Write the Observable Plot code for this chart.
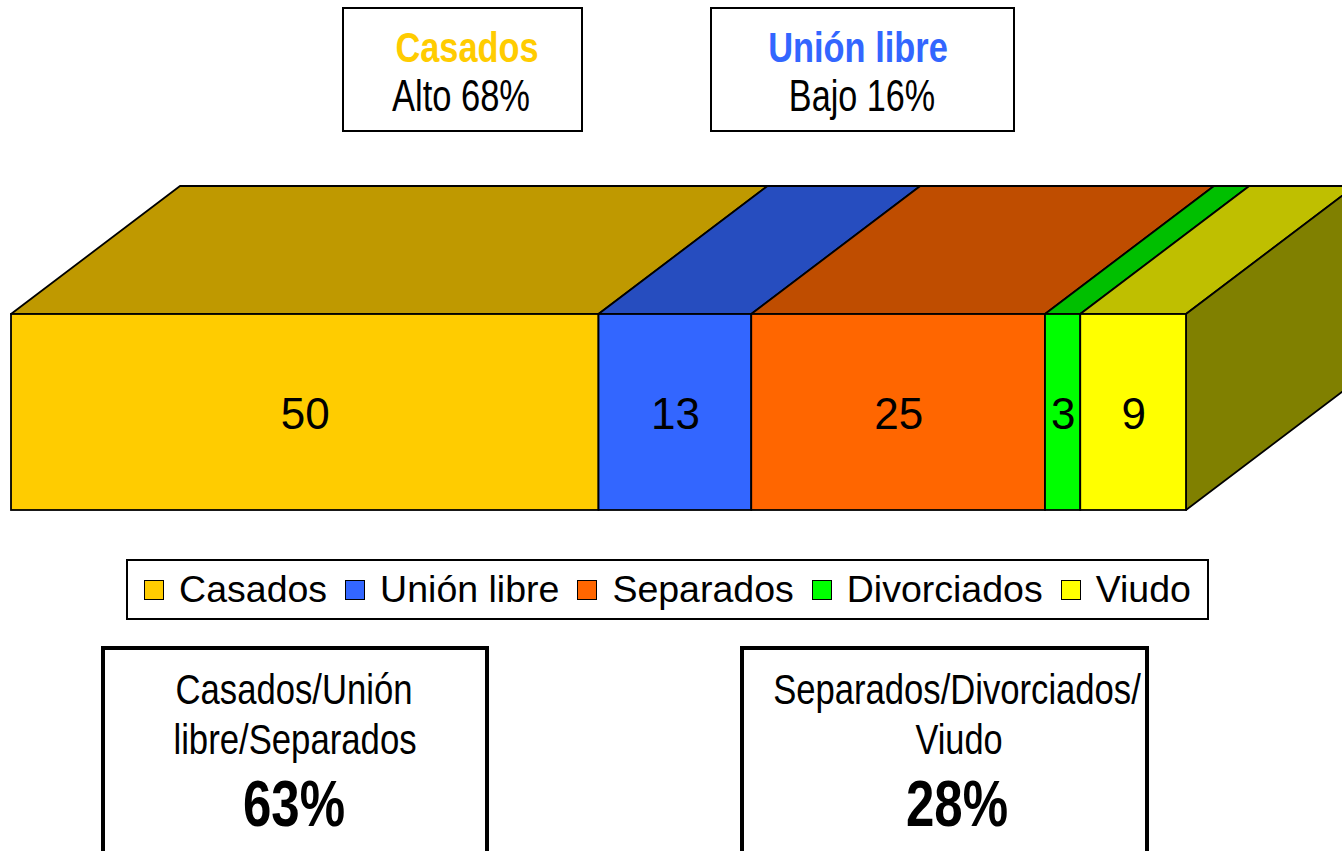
<!DOCTYPE html>
<html><head><meta charset="utf-8">
<script src="https://cdn.jsdelivr.net/npm/d3@7"></script>
<script src="https://cdn.jsdelivr.net/npm/@observablehq/plot@0.6"></script>
<style>
html,body{margin:0;padding:0;background:#fff;overflow:hidden;}
#page{position:relative;width:1342px;height:851px;overflow:hidden;font-family:"Liberation Sans",Arial,sans-serif;color:#000;}
.box{position:absolute;box-sizing:border-box;background:#fff;border:2px solid #000;}
.t{position:absolute;white-space:nowrap;transform-origin:50% 50%;}
#chart{position:absolute;left:0;top:170px;}
#legend{display:flex;align-items:center;justify-content:center;font-size:37.5px;white-space:nowrap;overflow:visible;}
#legend .item{display:flex;align-items:center;margin:0 9px;flex-shrink:0;}
#legend .sw{width:20px;height:20px;flex-shrink:0;box-sizing:border-box;border:1.5px solid #000;margin-right:15px;}
</style></head><body><div id="page"></div>
<script>
// ---- data ----
const categories = ["Casados", "Unión libre", "Separados", "Divorciados", "Viudo"];
const values = [50, 13, 25, 3, 9];
const colors = ["#FFCC00", "#3366FF", "#FF6600", "#00FF00", "#FFFF00"];
const highlightTitles = ["Casados", "Unión libre"];
const highlightLabels = ["Alto 68%", "Bajo 16%"];
const groupLines = [["Casados/Unión", "libre/Separados"], ["Separados/Divorciados/", "Viudo"]];
const groupPercents = ["63%", "28%"];

// ---- geometry of the 3D effect (layout) ----
const DX = 169 / 11.75;   // depth in x units
const DY = 128 / 196;     // depth in y units
const TOP_SHADE = 0.75, SIDE_SHADE = 0.5;

const page = document.getElementById("page");
const colorOf = c => colors[categories.indexOf(c)];
const shade = (c, k) => { const r = d3.rgb(c); return d3.rgb(r.r * k, r.g * k, r.b * k).formatHex(); };

const ends = d3.cumsum(values);
const rows = categories.map((c, i) => ({category: c, value: values[i], start: ends[i] - values[i], end: ends[i]}));
const total = ends[ends.length - 1];
const topRows = rows.flatMap(r => [
  {category: r.category, y: 1, x1: r.start, x2: r.end},
  {category: r.category, y: 1 + DY, x1: r.start + DX, x2: r.end + DX}
]);
const sideRows = [
  {category: categories[categories.length - 1], x: total, y1: 0, y2: 1},
  {category: categories[categories.length - 1], x: total + DX, y1: DY, y2: 1 + DY}
];

const chart = Plot.plot({
  width: 1342,
  height: 360,
  x: {domain: [0, 100], range: [11, 1186], axis: null},
  y: {domain: [0, 1], range: [340, 144], axis: null},
  color: {domain: categories, range: colors},
  style: {background: "transparent", overflow: "hidden"},
  marks: [
    Plot.areaX(topRows, {x1: "x1", x2: "x2", y: "y", z: "category",
      fill: d => shade(colorOf(d.category), TOP_SHADE), stroke: "#000", strokeWidth: 1.8}),
    Plot.areaY(sideRows, {x: "x", y1: "y1", y2: "y2",
      fill: d => shade(colorOf(d.category), SIDE_SHADE), stroke: "#000", strokeWidth: 1.8}),
    Plot.rect(rows, {x1: "start", x2: "end", y1: 0, y2: 1, fill: "category", stroke: "#000", strokeWidth: 1.8}),
    Plot.text(rows, {x: d => (d.start + d.end) / 2, y: 0.5, dy: 2, text: d => String(d.value),
      fontSize: 44, fontFamily: "Liberation Sans, Arial, sans-serif", fill: "#000"})
  ]
});
chart.id = "chart";
page.appendChild(chart);

// ---- boxes ----
function box(left, top, w, h, bw) {
  const b = document.createElement("div");
  b.className = "box";
  Object.assign(b.style, {left: left + "px", top: top + "px", width: w + "px", height: h + "px", borderWidth: bw + "px"});
  page.appendChild(b);
  return b;
}
const texts = [];
function text(str, cx, baseline, size, width, opts = {}) {
  const s = document.createElement("span");
  s.className = "t";
  s.textContent = str;
  Object.assign(s.style, {
    left: cx + "px", top: (baseline - 0.8465 * size) + "px", fontSize: size + "px",
    lineHeight: size + "px", fontWeight: opts.bold ? "700" : "400", color: opts.color || "#000"
  });
  page.appendChild(s);
  texts.push([s, width]);
}
function fit() {
  for (const [s, w] of texts) {
    const nat = s.offsetWidth;
    s.style.transform = `translateX(-50%) scaleX(${w / nat})`;
  }
}

box(342, 7, 241, 125, 2);
box(710, 7, 305, 125, 2);
text(highlightTitles[0], 466.5, 62, 43, 143, {bold: true, color: colors[0]});
text(highlightLabels[0], 461, 111, 44, 138);
text(highlightTitles[1], 858, 62, 43, 180, {bold: true, color: colors[1]});
text(highlightLabels[1], 862, 111, 44, 146);

// legend
const lg = box(126, 559, 1083, 61, 2);
lg.id = "legend";
categories.forEach((c, i) => {
  const it = document.createElement("div"); it.className = "item";
  const sw = document.createElement("div"); sw.className = "sw"; sw.style.background = colors[i];
  const tx = document.createElement("span"); tx.textContent = c;
  it.appendChild(sw); it.appendChild(tx); lg.appendChild(it);
});

// bottom group boxes
box(101, 646, 388, 230, 4);
box(740, 646, 409, 230, 4);
text(groupLines[0][0], 293.5, 704, 43, 237);
text(groupLines[0][1], 294.5, 754, 43, 243);
text(groupPercents[0], 294, 826, 64, 102, {bold: true});
text(groupLines[1][0], 957, 704, 43, 368);
text(groupLines[1][1], 958.5, 754, 43, 87);
text(groupPercents[1], 957, 826, 64, 102, {bold: true});

fit();
if (document.fonts && document.fonts.ready) document.fonts.ready.then(fit);
</script></body></html>
